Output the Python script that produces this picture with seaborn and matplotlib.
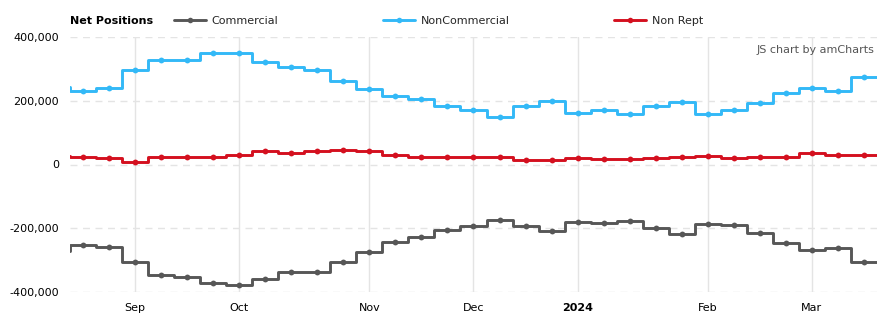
import numpy as np
import pandas as pd
import matplotlib
matplotlib.use("Agg")
import matplotlib.pyplot as plt
from matplotlib.lines import Line2D
import seaborn as sns

# ---- data (weekly, Aug 15 2023 .. Mar 19 2024) ----
dates = pd.date_range("2023-08-15", "2024-03-19", freq="7D")
commercial = [-272000, -253000, -259000, -305000, -348000, -354000, -373000, -379000,
              -360000, -338000, -338000, -305000, -275000, -243000, -227000, -205000,
              -193000, -174000, -193000, -208000, -180000, -183000, -177000, -199000,
              -218000, -186000, -190000, -215000, -246000, -269000, -262000, -306000]
noncommercial = [243000, 232000, 239000, 298000, 327000, 327000, 349000, 349000,
                 320000, 305000, 298000, 261000, 236000, 214000, 207000, 182000,
                 170000, 150000, 182000, 199000, 163000, 171000, 160000, 182000,
                 195000, 160000, 171000, 192000, 224000, 239000, 232000, 276000]
nonrept = [26000, 22000, 19000, 9000, 22000, 25000, 25000, 31000,
           41000, 35000, 41000, 47000, 41000, 31000, 22000, 22000,
           25000, 25000, 13000, 13000, 19000, 16000, 16000, 19000,
           22000, 28000, 19000, 25000, 22000, 35000, 31000, 31000]
series_names = ["Commercial", "NonCommercial", "Non Rept"]
colors = {"Commercial": "#575757", "NonCommercial": "#33b9f7", "Non Rept": "#d4101f"}
y_ticks = [400000, 200000, 0, -200000, -400000]

# equal spacing of categories (index positions); first point is partially off-chart
pos = np.arange(len(dates)) - 1

df = pd.concat([
    pd.DataFrame({"pos": pos, "value": vals, "series": name})
    for name, vals in zip(series_names, [commercial, noncommercial, nonrept])
])

sns.set_theme(style="white")
plt.rcParams["font.family"] = ["DejaVu Sans"]

fig = plt.figure(figsize=(8.94, 3.25), dpi=100)
ax = fig.add_axes([70 / 894, 33 / 325, 807 / 894, 255 / 325])

for name in series_names:
    sub = df[df.series == name]
    sns.lineplot(data=sub, x="pos", y="value", ax=ax, color=colors[name],
                 drawstyle="steps-mid", linewidth=2.1, marker="o", markersize=4.2,
                 markeredgewidth=0, legend=False, zorder=3)
    # last step extends half a category to the right edge
    ax.hlines(sub["value"].iloc[-1], sub["pos"].iloc[-1], sub["pos"].iloc[-1] + 0.5,
              color=colors[name], linewidth=2.1, zorder=3)

ax.set_xlim(-0.5, pos[-1] + 0.5)
ax.set_ylim(-400000, 400000)

# month ticks at first data point of each month
month_pos, month_lab = [], []
prev = None
for p, d in zip(pos, dates):
    if p < 0:
        prev = d.month
        continue
    if prev is not None and d.month != prev:
        month_pos.append(p)
        month_lab.append(str(d.year) if d.month == 1 else d.strftime("%b"))
    prev = d.month
ax.set_xticks(month_pos)
ax.set_xticklabels(month_lab)
for lab in ax.get_xticklabels():
    if lab.get_text().isdigit():
        lab.set_fontweight("bold")

ax.set_yticks(y_ticks)
ax.set_yticklabels([f"{v:,}" for v in y_ticks])
ax.tick_params(axis="both", labelsize=8, length=0, colors="#000000")
ax.tick_params(axis="y", pad=8)
ax.tick_params(axis="x", pad=8)

for v in y_ticks:
    ax.axhline(v, color="#e4e4e4", linewidth=1, linestyle=(0, (5, 4)), zorder=1)
for p in month_pos:
    ax.axvline(p, color="#e4e4e4", linewidth=1, zorder=1)
for s in ax.spines.values():
    s.set_visible(False)
ax.set_xlabel("")
ax.set_ylabel("")

# title + legend
fig.text(70 / 894, 1 - 21 / 325, "Net Positions", fontsize=8, fontweight="bold",
         va="center", ha="left", color="#000000")
handles = [Line2D([0], [0], color=colors[n], linewidth=2.1, marker="o",
                  markersize=4, markeredgewidth=0) for n in series_names]
leg = fig.legend(handles, series_names, loc="center left",
                 bbox_to_anchor=(174 / 894, 1 - 21 / 325), ncol=3, frameon=False,
                 fontsize=8, handlelength=2.9, handletextpad=0.5,
                 columnspacing=9.4, borderpad=0, borderaxespad=0)

fig.text(874 / 894, 1 - 50 / 325, "JS chart by amCharts", fontsize=8,
         color="#555555", ha="right", va="center")

fig.savefig("out.png", dpi=100)
